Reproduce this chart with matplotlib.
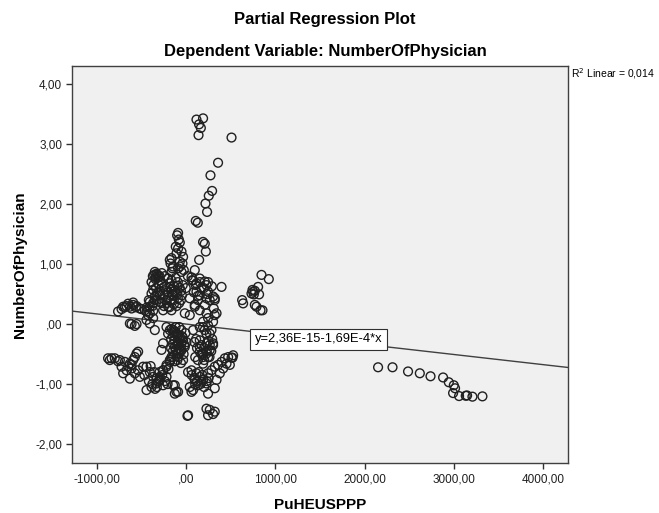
import numpy as np
import matplotlib.pyplot as plt
from matplotlib.ticker import FuncFormatter, FixedLocator

plt.rcParams["font.family"] = ["Liberation Sans", "DejaVu Sans"]

# partial residuals (x: PuHEUSPPP, y: NumberOfPhysician)
top_x = [114, 188, 143, 163, 137, 507, 356, 271, 289, 252, 215, 233, 106, 129]
top_y = [3.41, 3.43, 3.33, 3.27, 3.15, 3.11, 2.69, 2.48, 2.22, 2.14, 2.01, 1.87, 1.72, 1.69]

stack_x = [-92, -103, -84, -73, -118, -92, -54, -110, -36, -166, -73, -177, -43, -155, -92, -28,
           -185, -148, -166, -73, -54, 188, 207, 219, 144, 95, 58, 395, 319]
stack_y = [1.52, 1.48, 1.41, 1.36, 1.29, 1.26, 1.21, 1.18, 1.12, 1.10, 1.04, 1.01, 1.01, 0.93, 0.93, 0.90,
           1.07, 0.96, 0.87, 0.96, 0.87, 1.37, 1.34, 1.21, 1.07, 0.90, 0.78, 0.62, 0.43]

blob_x = [-353, -320, -275, -342, -297, -241, -375, -334, -310, -360, -345, -300,
          -185, -140, -95, -163, -118, -73, -207, -50, -95, -140, -204, -166, -120, -150, -180,
          17, 62, 106, -6, 84, 129, 39, 151, 196, 230,
          151, 207, 226, 170, 114, 151, 244, 226, 132, 95, 39, -17,
          244, 286, 263, 207, 308, 151, 95, 76, 114, 300, 319, 339,
          -390, -353, -334, -372, -409, -297, -278, -260, -222, -204, -166, -372, -334, -353, -297, -409]
blob_y = [0.87, 0.82, 0.85, 0.78, 0.73, 0.80, 0.80, 0.84, 0.78, 0.82, 0.75, 0.80,
          0.68, 0.63, 0.70, 0.57, 0.52, 0.60, 0.53, 0.48, 0.43, 0.40, 0.76, 0.73, 0.77, 0.48, 0.62,
          0.80, 0.73, 0.65, 0.60, 0.53, 0.47, 0.43, 0.70, 0.60, 0.50,
          0.76, 0.71, 0.65, 0.60, 0.54, 0.48, 0.54, 0.43, 0.40, 0.29, 0.15, 0.18,
          0.70, 0.63, 0.40, 0.32, 0.26, 0.23, 0.32, 0.73, 0.68, 0.46, 0.40, 0.18,
          0.51, 0.46, 0.40, 0.35, 0.29, 0.48, 0.35, 0.23, 0.40, 0.29, 0.23, 0.57, 0.48, 0.40, 0.37, 0.37]

arm_x = [-765, -726, -689, -633, -596, -558, -521, -465, -428, -372, -708, -652, -596, -566, -502,
         -446, -409, -372, -670, -614, -633, -577, -558, -446, -409, -353, -614]
arm_y = [0.21, 0.25, 0.28, 0.29, 0.32, 0.30, 0.26, 0.23, 0.15, 0.10, 0.29, 0.34, 0.36, 0.28, 0.25,
         0.21, 0.18, 0.22, 0.30, 0.26, 0.01, -0.03, 0.00, 0.07, 0.01, -0.10, 0.00]

mid_x = [-222, -185, -166, -129, -204, -148, 76, 188, 226, 282, 300, 319, 244,
         -148, -110, -73, -92, -129, -73, -110, -166, -185, -222, -260, -297, -54, -36, -17, -92,
         -129, -54, -90, -130, -60, -100, -120, -40, -150, -80,
         -92, -73, -110, -54, -92, -148, -185, -222, -260, -278, -260, -36, 2,
         226, 244, 188, 151, 207, 263, 151, 226, 300, 151, 263, 188, 244]
mid_y = [-0.05, -0.10, -0.08, -0.12, -0.16, -0.20, -0.10, -0.05, -0.16, -0.10, 0.04, 0.15, -0.02,
         -0.10, -0.16, -0.21, -0.30, -0.38, -0.43, -0.49, -0.55, -0.63, -0.71, -0.77, -0.88, -0.10, -0.27, -0.38, -0.35,
         -0.27, -0.32, -0.55, -0.62, -0.45, -0.20, -0.44, -0.22, -0.33, -0.05,
         -0.18, -0.27, -0.35, -0.43, -0.49, -0.55, -0.60, -0.68, -0.77, -0.43, -0.32, -0.60, -0.30,
         0.18, 0.10, 0.04, -0.05, -0.10, -0.16, -0.27, -0.32, -0.35, -0.38, -0.43, -0.49, -0.55]

low_x = [-858, -802, -745, -689, -633, -596, -558, -540, -726, -670, -614, -708, -633, -577, -540,
         -484, -521, -877, -838, -765, -652, -577, -614,
         -446, -409, -372, -316, -260, -446, -390, -334, -297, -222, -129, -110, -148, -92, -129,
         -470, -420, -350,
         20, 58, 114, 151, 188, 226, 95, 132, 170, 39, 58, 76, 244, 282, 319, 356, 395, 432, 469,
         507, 525, 451, 413, 376, 339, 319, 188, 226, 263, 300, 151, 188, 244, 518, 488,
         13, 226, 263, 319, 244, 300, 20]
low_y = [-0.60, -0.57, -0.60, -0.63, -0.66, -0.60, -0.49, -0.46, -0.71, -0.77, -0.74, -0.82, -0.91, -0.82, -0.77,
         -0.71, -0.88, -0.57, -0.57, -0.62, -0.70, -0.55, -0.68,
         -0.71, -0.80, -0.88, -0.96, -1.02, -1.10, -1.05, -0.99, -0.93, -0.88, -1.02, -1.13, -1.02, -1.13, -1.16,
         -0.85, -0.95, -1.08,
         -0.80, -0.77, -0.82, -0.88, -0.93, -0.99, -0.93, -1.02, -0.96, -1.05, -1.13, -1.10, -0.82, -0.77, -0.71, -0.68, -0.63, -0.57, -0.55,
         -0.56, -0.52, -0.66, -0.74, -0.82, -0.93, -1.07, -0.66, -0.49, -0.35, -0.32, -0.46, -0.55, -1.16, -0.56, -0.68,
         -1.53, -1.41, -1.43, -1.46, -1.52, -1.50, -1.52]

# extra points in the darkest, most overlapped parts of the cloud
dense_x = [-390, -370, -340, -310, -280, -250, -230, -260, -290, -320, -200, -170, -140, -110, -80,
           -60, -100, -130, -220, -250, -190, -160, -60, -40, -100, -380, -420, -440,
           -170, -150, -100, -60, -30, -10, -170, -140, -20, -50, -120, -80,
           90, 120, 100, 130, 170, 200, 230, 260, 280, 200, 170, 110, 290, 250,
           60, 90, 120, 160, 200, 230, 100, 140, 180, 250,
           -400, -360, -330, -300, -270, -240, -210, -380, -330, -200]
dense_y = [0.70, 0.65, 0.60, 0.66, 0.70, 0.62, 0.55, 0.50, 0.55, 0.52, 0.45, 0.40, 0.33, 0.30, 0.35,
           0.40, 0.50, 0.55, 0.35, 0.30, 0.28, 0.50, 0.55, 0.65, 0.64, 0.30, 0.40, 0.28,
           -0.25, -0.45, -0.60, -0.65, -0.50, -0.15, -0.40, -0.15, -0.35, -0.20, -0.05, -0.40,
           -0.30, -0.40, -0.55, -0.60, -0.35, -0.40, -0.45, -0.55, -0.45, -0.60, -0.50, -0.25, -0.25, -0.28,
           -0.85, -0.90, -0.95, -1.00, -1.05, -0.95, -1.00, -0.80, -0.85, -0.90,
           -0.70, -0.80, -0.90, -0.80, -0.85, -0.95, -1.00, -1.00, -1.05, -0.75]

right_x = [843, 925, 626, 637, 749, 742, 768, 805, 816, 757, 768, 787, 832, 854, 731,
           2150, 2312, 2486, 2618, 2738, 2879, 2943, 2999, 3013, 2991, 3058, 3133, 3148, 3208, 3320]
right_y = [0.82, 0.75, 0.40, 0.345, 0.54, 0.57, 0.555, 0.62, 0.495, 0.495, 0.32, 0.29, 0.23, 0.23, 0.51,
           -0.72, -0.72, -0.79, -0.82, -0.87, -0.89, -0.97, -1.02, -1.07, -1.15, -1.20, -1.195, -1.19, -1.21, -1.205]

intercept = 2.36e-15
slope = -1.69e-4
r2 = 0.014

x_ticks = [-1000, 0, 1000, 2000, 3000, 4000]
y_ticks = [-2, -1, 0, 1, 2, 3, 4]

xs = np.array(top_x + stack_x + blob_x + arm_x + mid_x + low_x + dense_x + right_x, dtype=float)
ys = np.array(top_y + stack_y + blob_y + arm_y + mid_y + low_y + dense_y + right_y, dtype=float)


def comma_fmt(v, pos):
    s = f"{v:.2f}".replace(".", ",")
    if s.startswith("0,"):
        s = s[1:]
    return s


fig = plt.figure(figsize=(6.59, 5.13), dpi=100)
ax = fig.add_axes([0.110, 0.097, 0.752, 0.774])
ax.set_facecolor("#f0f0f0")

ax.scatter(xs, ys, s=40, facecolors="none", edgecolors="#202020", linewidths=1.0, zorder=3)

xlim = (-1276, 4280)
ylim = (-2.32, 4.30)
line_x = np.array(xlim)
ax.plot(line_x, intercept + slope * line_x, color="#404040", lw=1.0, zorder=2)
ax.set_xlim(*xlim)
ax.set_ylim(*ylim)

ax.text(770, -0.25, "y=2,36E-15-1,69E-4*x", fontsize=9.3, ha="left", va="center", zorder=4,
        bbox=dict(boxstyle="square,pad=0.35", facecolor="white", edgecolor="#303030", lw=0.8))

ax.xaxis.set_major_locator(FixedLocator(x_ticks))
ax.yaxis.set_major_locator(FixedLocator(y_ticks))
ax.xaxis.set_major_formatter(FuncFormatter(comma_fmt))
ax.yaxis.set_major_formatter(FuncFormatter(comma_fmt))
ax.tick_params(direction="out", length=4, width=1, colors="#303030", labelsize=8.5, labelcolor="#202020")
for sp in ax.spines.values():
    sp.set_color("#404040")
    sp.set_linewidth(1.0)

ax.set_xlabel("PuHEUSPPP", fontsize=11, fontweight="bold", labelpad=9)
ax.set_ylabel("NumberOfPhysician", fontsize=11, fontweight="bold", labelpad=6)

fig.text(0.493, 0.962, "Partial Regression Plot", ha="center", va="center", fontsize=12, fontweight="bold")
fig.text(0.493, 0.899, "Dependent Variable: NumberOfPhysician", ha="center", va="center",
         fontsize=12, fontweight="bold")
fig.text(0.866, 0.857, "R$^2$ Linear = " + f"{r2:.3f}".replace("0.", "0,"), ha="left", va="center", fontsize=7.5)

fig.savefig("out.png", dpi=100)
